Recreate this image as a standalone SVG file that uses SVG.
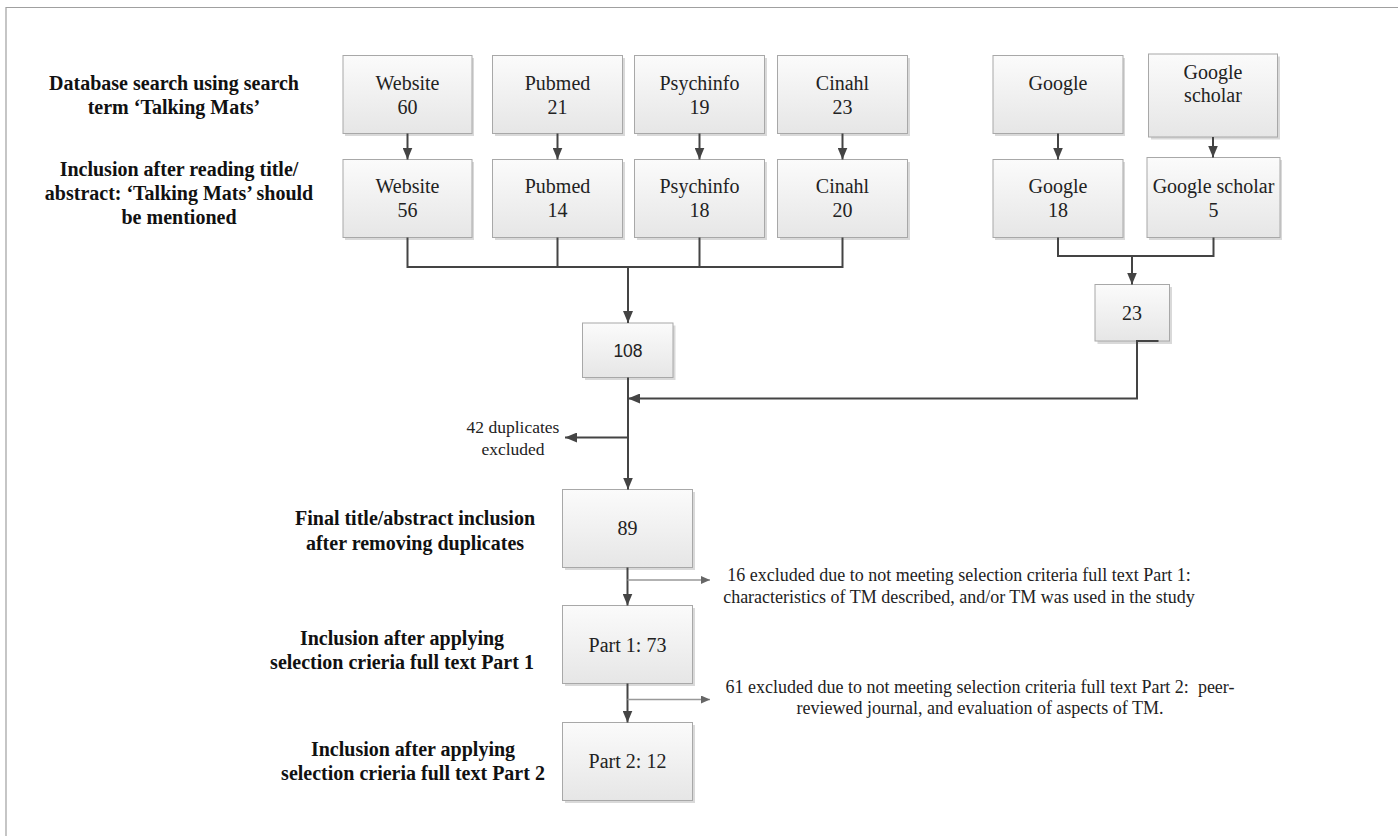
<svg xmlns="http://www.w3.org/2000/svg" width="1398" height="836" viewBox="0 0 1398 836">
<defs>
<linearGradient id="boxfill" x1="0" y1="0" x2="0" y2="1">
<stop offset="0" stop-color="#fbfbfb"/>
<stop offset="1" stop-color="#e6e6e6"/>
</linearGradient>
<marker id="ah" markerUnits="userSpaceOnUse" viewBox="0 0 12 10" refX="12" refY="5" markerWidth="12" markerHeight="10" orient="auto">
<path d="M0,0 L12,5 L0,10 z" fill="#444"/>
</marker>
<marker id="ahs" markerUnits="userSpaceOnUse" viewBox="0 0 9 8" refX="9" refY="4" markerWidth="9" markerHeight="8" orient="auto">
<path d="M0,0 L9,4 L0,8 z" fill="#666"/>
</marker>
</defs>
<style>
.box{fill:url(#boxfill);stroke:#a8a8a8;stroke-width:1}
.sh{fill:#d9d9d9}
.bt{font-family:"Liberation Serif","Times New Roman",serif;font-size:20px;fill:#222;text-anchor:middle}
.st{font-family:"Liberation Sans","Lato",sans-serif;font-size:17.5px;fill:#222;text-anchor:middle}
.lb{font-family:"Liberation Serif","Times New Roman",serif;font-size:20px;font-weight:bold;fill:#111;text-anchor:middle}
.sm{font-family:"Liberation Serif","Times New Roman",serif;font-size:18px;fill:#222;text-anchor:middle}
.cn{fill:none;stroke:#444;stroke-width:2}
.cs{fill:none;stroke:#999;stroke-width:1.5}
</style>
<rect width="1398" height="836" fill="#fff"/>
<path d="M6,836 V7.5 H1398" fill="none" stroke="#a0a0a0" stroke-width="1.2"/>

<g id="labels">
<text class="lb" x="174" y="89.5">Database search using search</text>
<text class="lb" x="174" y="114">term ‘Talking Mats’</text>
<text class="lb" x="179" y="176">Inclusion after reading title/</text>
<text class="lb" x="179" y="200">abstract: ‘Talking Mats’ should</text>
<text class="lb" x="179" y="224">be mentioned</text>
<text class="lb" x="415" y="525">Final title/abstract inclusion</text>
<text class="lb" x="415" y="549.5">after removing duplicates</text>
<text class="lb" x="402" y="645">Inclusion after applying</text>
<text class="lb" x="402" y="668.5">selection crieria full text Part 1</text>
<text class="lb" x="413" y="756">Inclusion after applying</text>
<text class="lb" x="413" y="780">selection crieria full text Part 2</text>
</g>

<g id="n-website60"><rect class="sh" x="345" y="58" width="129" height="78"/><rect class="box" x="343" y="55.5" width="129" height="78"/><text class="bt" x="407.5" y="89.5">Website</text><text class="bt" x="407.5" y="113.5">60</text></g>
<g id="n-pubmed21"><rect class="sh" x="495" y="58" width="130" height="78"/><rect class="box" x="492.5" y="55.5" width="130" height="78"/><text class="bt" x="557.5" y="89.5">Pubmed</text><text class="bt" x="557.5" y="113.5">21</text></g>
<g id="n-psych19"><rect class="sh" x="637" y="58" width="130" height="78"/><rect class="box" x="634.5" y="55.5" width="130" height="78"/><text class="bt" x="699.5" y="89.5">Psychinfo</text><text class="bt" x="699.5" y="113.5">19</text></g>
<g id="n-cinahl23"><rect class="sh" x="780" y="58" width="130" height="78"/><rect class="box" x="777.5" y="55.5" width="130" height="78"/><text class="bt" x="842.5" y="89.5">Cinahl</text><text class="bt" x="842.5" y="113.5">23</text></g>
<g id="n-google"><rect class="sh" x="995" y="58" width="130" height="78"/><rect class="box" x="993" y="55.5" width="130" height="78"/><text class="bt" x="1058" y="89.5">Google</text></g>
<g id="n-gscholar"><rect class="sh" x="1151" y="56.5" width="129" height="83"/><rect class="box" x="1148.5" y="54" width="129" height="83"/><text class="bt" x="1213" y="78.5">Google</text><text class="bt" x="1213" y="102">scholar</text></g>

<g id="n-website56"><rect class="sh" x="345" y="162" width="129" height="78"/><rect class="box" x="343" y="159.5" width="129" height="78"/><text class="bt" x="407.5" y="192.5">Website</text><text class="bt" x="407.5" y="217">56</text></g>
<g id="n-pubmed14"><rect class="sh" x="495" y="162" width="130" height="78"/><rect class="box" x="492.5" y="159.5" width="130" height="78"/><text class="bt" x="557.5" y="192.5">Pubmed</text><text class="bt" x="557.5" y="217">14</text></g>
<g id="n-psych18"><rect class="sh" x="637" y="162" width="130" height="78"/><rect class="box" x="634.5" y="159.5" width="130" height="78"/><text class="bt" x="699.5" y="192.5">Psychinfo</text><text class="bt" x="699.5" y="217">18</text></g>
<g id="n-cinahl20"><rect class="sh" x="780" y="162" width="130" height="78"/><rect class="box" x="777.5" y="159.5" width="130" height="78"/><text class="bt" x="842.5" y="192.5">Cinahl</text><text class="bt" x="842.5" y="217">20</text></g>
<g id="n-google18"><rect class="sh" x="995" y="162" width="130" height="78"/><rect class="box" x="993" y="159.5" width="130" height="78"/><text class="bt" x="1058" y="192.5">Google</text><text class="bt" x="1058" y="217">18</text></g>
<g id="n-gscholar5"><rect class="sh" x="1149" y="160" width="133" height="80"/><rect class="box" x="1147" y="157.5" width="133" height="80"/><text class="bt" x="1213.5" y="192.5">Google scholar</text><text class="bt" x="1213.5" y="217">5</text></g>

<g id="n-108"><rect class="sh" x="585" y="325.5" width="90.5" height="54.5"/><rect class="box" x="582.5" y="323" width="90.5" height="54.5"/><text class="st" x="628" y="356.5">108</text></g>
<g id="n-23"><rect class="sh" x="1097.5" y="287" width="74.5" height="57"/><rect class="box" x="1095" y="284.5" width="74.5" height="56.5"/><text class="bt" x="1132" y="319.5">23</text></g>
<g id="n-89"><rect class="sh" x="565" y="492" width="130" height="78"/><rect class="box" x="562.5" y="489.5" width="130" height="78"/><text class="bt" x="627.5" y="535">89</text></g>
<g id="n-part1"><rect class="sh" x="565" y="608" width="130" height="78"/><rect class="box" x="562.5" y="605.5" width="130" height="78"/><text class="bt" x="627.5" y="651.5">Part 1: 73</text></g>
<g id="n-part2"><rect class="sh" x="565" y="725" width="130" height="78"/><rect class="box" x="562.5" y="722.5" width="130" height="78"/><text class="bt" x="627.5" y="768">Part 2: 12</text></g>

<g id="notes">
<text class="sm" style="font-size:17.5px" x="513" y="433">42 duplicates</text>
<text class="sm" style="font-size:17.5px" x="513" y="454.5">excluded</text>
<text class="sm" x="959" y="580.5">16 excluded due to not meeting selection criteria full text Part 1:</text>
<text class="sm" x="959" y="602.5">characteristics of TM described, and/or TM was used in the study</text>
<text class="sm" x="980" y="692.5" xml:space="preserve">61 excluded due to not meeting selection criteria full text Part 2:  peer-</text>
<text class="sm" x="980" y="714">reviewed journal, and evaluation of aspects of TM.</text>
</g>

<g id="connectors">
<path class="cn" marker-end="url(#ah)" d="M407.5,133.5 V159.5"/>
<path class="cn" marker-end="url(#ah)" d="M557.5,133.5 V159.5"/>
<path class="cn" marker-end="url(#ah)" d="M699.5,133.5 V159.5"/>
<path class="cn" marker-end="url(#ah)" d="M842.5,133.5 V159.5"/>
<path class="cn" marker-end="url(#ah)" d="M1058,133.5 V159.5"/>
<path class="cn" marker-end="url(#ah)" d="M1213,137 V157.5"/>
<path class="cn" d="M407.5,237.5 V267 H842.5 V237.5 M557.5,237.5 V267 M699.5,237.5 V267"/>
<path class="cn" marker-end="url(#ah)" d="M628,267 V323"/>
<path class="cn" d="M1058,237.5 V256 H1213.5 V237.5"/>
<path class="cn" marker-end="url(#ah)" d="M1132,256 V284.5"/>
<path class="cn" marker-end="url(#ah)" d="M628,377.5 V489.5"/>
<path class="cn" marker-end="url(#ah)" d="M1158.5,341 H1137 V398.5 H628"/>
<path class="cn" marker-end="url(#ah)" d="M627,437.5 H565"/>
<path class="cn" marker-end="url(#ah)" d="M627.5,567.5 V605.5"/>
<path class="cs" marker-end="url(#ahs)" d="M627.5,580 H710"/>
<path class="cn" marker-end="url(#ah)" d="M627.5,683.5 V722.5"/>
<path class="cs" marker-end="url(#ahs)" d="M627.5,699.5 H710"/>
</g>
</svg>
